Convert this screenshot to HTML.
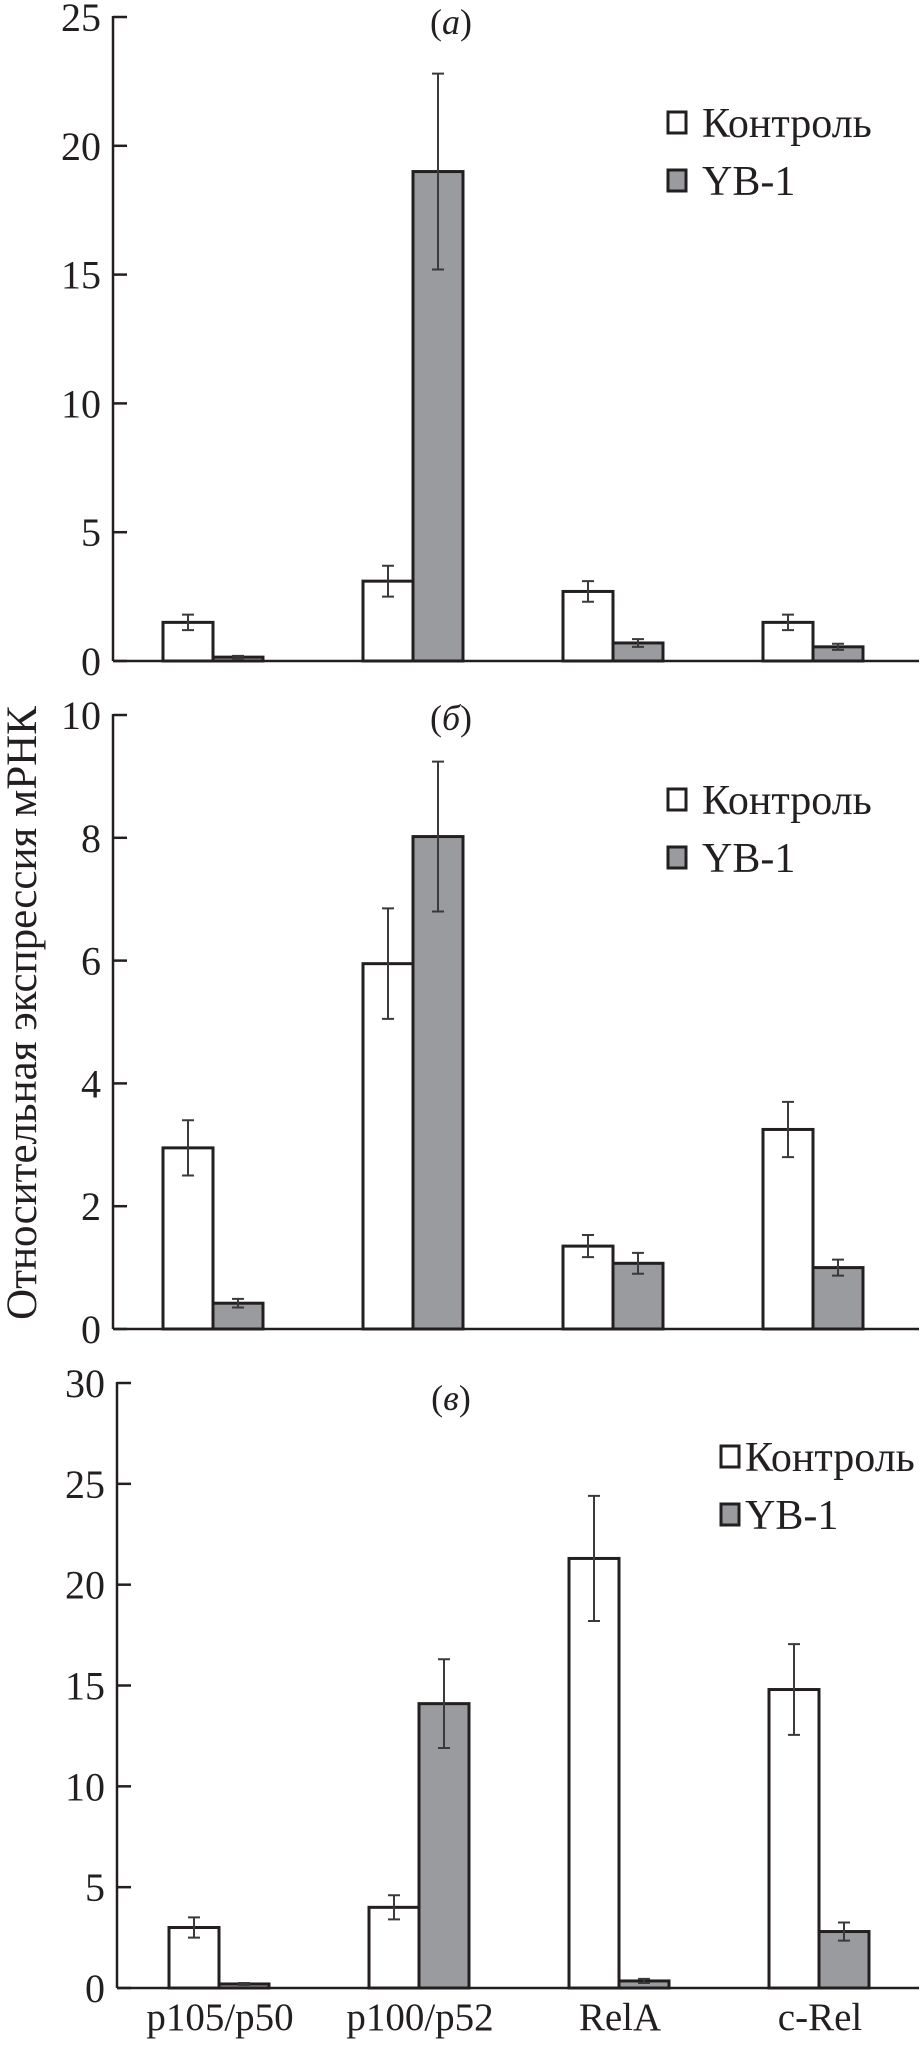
<!DOCTYPE html>
<html><head><meta charset="utf-8"><style>
html,body{margin:0;padding:0;background:#fff;}
svg{display:block;font-family:"Liberation Serif",serif;}
</style></head><body>
<svg id="chart" width="922" height="2048" viewBox="0 0 922 2048" xmlns="http://www.w3.org/2000/svg">
<text transform="translate(36,1013) rotate(-90)" text-anchor="middle" font-size="43" fill="#231f20">Относительная экспрессия мРНК</text>
</svg>
<script>
const categories = ["p105/p50","p100/p52","RelA","c-Rel"];
const seriesNames = ["Контроль","YB-1"];
const aControl = [1.5,3.1,2.7,1.5];
const aControlErr = [0.3,0.6,0.4,0.3];
const aYB = [0.15,19.0,0.7,0.55];
const aYBErr = [0.05,3.8,0.15,0.12];
const aTicks = [0,5,10,15,20,25];
const bControl = [2.95,5.95,1.35,3.25];
const bControlErr = [0.45,0.9,0.18,0.45];
const bYB = [0.42,8.02,1.07,1.0];
const bYBErr = [0.07,1.22,0.17,0.13];
const bTicks = [0,2,4,6,8,10];
const cControl = [3.0,4.0,21.3,14.8];
const cControlErr = [0.5,0.6,3.1,2.25];
const cYB = [0.2,14.1,0.35,2.8];
const cYBErr = [0.05,2.2,0.1,0.45];
const cTicks = [0,5,10,15,20,25,30];

const svg = document.getElementById('chart');
const NS = 'http://www.w3.org/2000/svg';
function mk(tag, attrs){const e=document.createElementNS(NS,tag);for(const k in attrs)e.setAttribute(k,attrs[k]);svg.appendChild(e);return e;}

function panel(p){
  const y = v => p.y0 - v/(p.max) * (p.y0 - p.yTop);
  const xc = i => p.gx0 + i*200;
  const ax = mk('line',{x1:p.ax,y1:p.yTop-1,x2:p.ax,y2:p.y0,stroke:'#231f20','stroke-width':2.5});
  
  
  const bx = mk('line',{x1:p.ax,y1:p.y0,x2:919,y2:p.y0,stroke:'#231f20','stroke-width':2.5});
  
  
  p.ticks.forEach(t=>{
    const tk = mk('line',{x1:p.ax,y1:y(t),x2:p.ax+14,y2:y(t),stroke:'#231f20','stroke-width':2.5});
    
    
    const tl = mk('text',{x:p.ax-12,y:y(t)+14,'text-anchor':'end','font-size':40,fill:'#231f20'});
    tl.textContent = t;
    
    
  });
  const sets = [[p.ctrl,p.ctrlErr,'#ffffff',-50],[p.yb,p.ybErr,'#9a9b9e',0]];
  sets.forEach((s,si)=>{
    s[0].forEach((v,i)=>{
      const x = xc(i)+s[3];
      const r = mk('rect',{x:x,y:y(v),width:50,height:p.y0-y(v),fill:s[2],stroke:'#231f20','stroke-width':3});
      
      
      const e = s[1][i], cx = x+25;
      const g = mk('path',{d:`M${cx},${y(v+e)}V${y(v-e)}M${cx-6},${y(v+e)}H${cx+6}M${cx-6},${y(v-e)}H${cx+6}`,stroke:'#3a3a3a','stroke-width':2,fill:'none'});
      
      
    });
  });
  const t = mk('text',{x:451,y:p.titleY,'text-anchor':'middle','font-size':36,fill:'#231f20'});
  t.innerHTML = '(<tspan font-style="italic">'+p.letter+'</tspan>)';
  
  
  seriesNames.forEach((n,k)=>{
    const ly = p.legY + k*58;
    const b = mk('rect',{x:p.legX,y:ly-11,width:18,height:21,fill:k?'#9a9b9e':'#fff',stroke:'#231f20','stroke-width':3});
    
    
    const lt = mk('text',{x:p.legX+p.gap,y:ly+14,'font-size':42,fill:'#231f20'});
    lt.textContent = n;
    
    
  });
}
panel({id:'panel-a',letter:'a',ax:113,yTop:17,y0:661,max:25,ticks:aTicks,ctrl:aControl,ctrlErr:aControlErr,yb:aYB,ybErr:aYBErr,gx0:213,titleY:34,legX:668,gap:34,legY:123});
panel({id:'panel-b',letter:'б',ax:113,yTop:715,y0:1329,max:10,ticks:bTicks,ctrl:bControl,ctrlErr:bControlErr,yb:bYB,ybErr:bYBErr,gx0:213,titleY:730,legX:668,gap:34,legY:800});
panel({id:'panel-c',letter:'в',ax:117,yTop:1383,y0:1988,max:30,ticks:cTicks,ctrl:cControl,ctrlErr:cControlErr,yb:cYB,ybErr:cYBErr,gx0:219,titleY:1410,legX:721,gap:24,legY:1457});
categories.forEach((c,i)=>{
  const t = mk('text',{x:220+i*200,y:2030,'text-anchor':'middle','font-size':39,fill:'#231f20'});
  t.textContent = c;
  
  
});
</script>
</body></html>
